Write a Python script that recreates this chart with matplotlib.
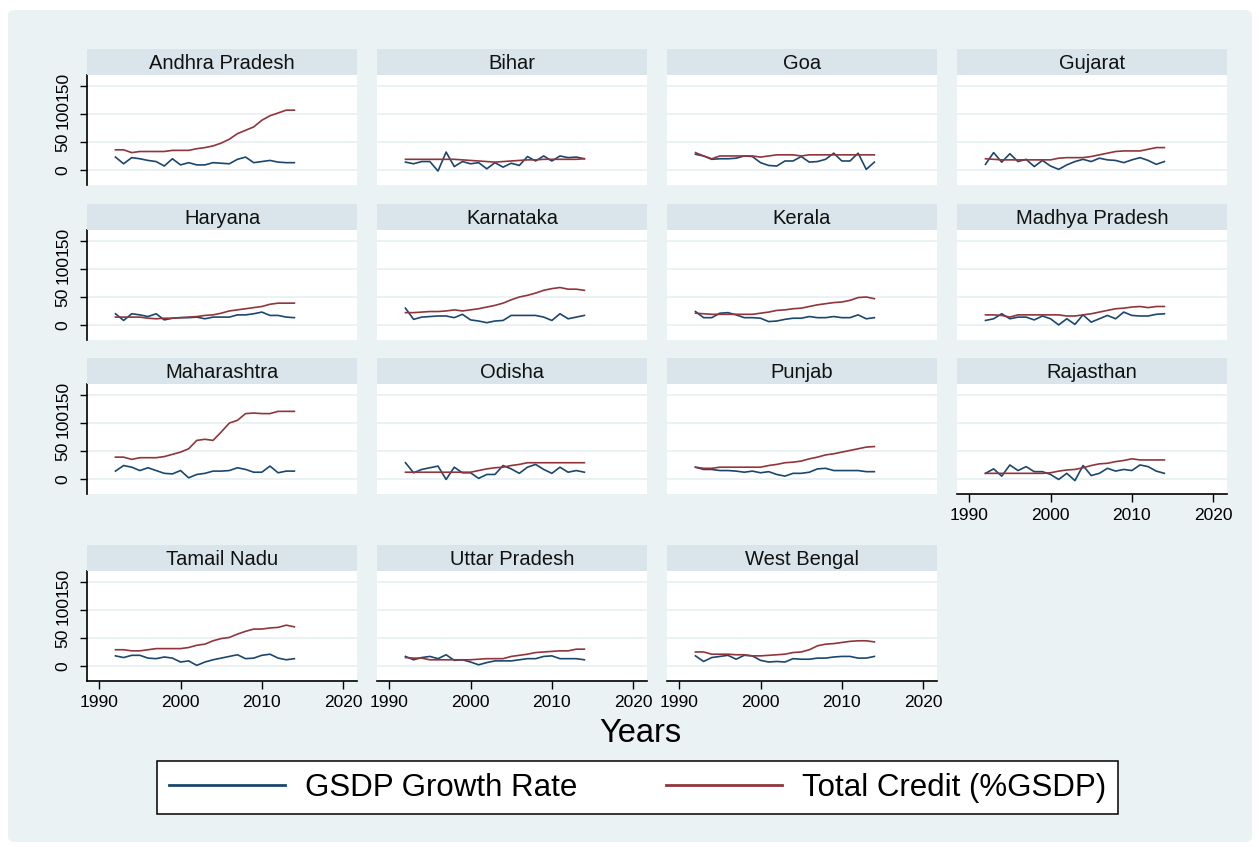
import matplotlib.pyplot as plt
from matplotlib.patches import FancyBboxPatch
from matplotlib.lines import Line2D

plt.rcParams['font.family'] = ['Liberation Sans', 'DejaVu Sans']

years = list(range(1992, 2015))

# GSDP growth rate and total credit (% of GSDP)
andhra_growth = [23, 11, 22, 20, 17, 15, 7, 20, 9, 13, 9, 9, 13, 12, 11, 19, 23, 13, 15, 17, 14, 13, 13]
andhra_credit = [36, 36, 31, 33, 33, 33, 33, 35, 35, 35, 38, 40, 43, 48, 55, 65, 71, 77, 89, 97, 102, 107, 107]
bihar_growth = [14, 11, 15, 15, -2, 32, 6, 15, 11, 13, 2, 13, 5, 12, 8, 24, 16, 25, 16, 25, 22, 23, 20]
bihar_credit = [19, 19, 19, 19, 19, 19, 19, 18, 17, 16, 15, 14, 15, 16, 17, 18, 18, 19, 19, 19, 19, 19, 20]
goa_growth = [28, 25, 19, 20, 20, 21, 25, 24, 13, 8, 7, 16, 16, 24, 14, 15, 19, 30, 16, 16, 30, 1, 14]
goa_credit = [31, 25, 20, 25, 25, 25, 25, 25, 23, 25, 27, 27, 27, 25, 27, 27, 27, 27, 27, 27, 27, 27, 27]
gujarat_growth = [10, 31, 14, 29, 15, 19, 6, 17, 7, 1, 9, 15, 19, 15, 21, 18, 17, 13, 18, 22, 17, 10, 15]
gujarat_credit = [20, 19, 18, 18, 18, 18, 18, 18, 18, 21, 22, 22, 22, 24, 27, 30, 33, 34, 34, 34, 37, 40, 40]
haryana_growth = [20, 8, 20, 18, 15, 20, 9, 12, 13, 13, 14, 11, 14, 14, 14, 18, 18, 20, 23, 17, 17, 14, 13]
haryana_credit = [14, 14, 14, 14, 12, 11, 12, 12, 13, 14, 15, 17, 18, 21, 25, 27, 29, 31, 33, 37, 39, 39, 39]
karnataka_growth = [30, 10, 14, 15, 16, 16, 13, 19, 9, 7, 4, 7, 8, 17, 17, 17, 17, 14, 8, 20, 11, 14, 17]
karnataka_credit = [22, 22, 23, 24, 24, 25, 27, 25, 27, 29, 32, 35, 39, 45, 50, 53, 57, 62, 65, 67, 64, 64, 62]
kerala_growth = [24, 13, 13, 21, 22, 18, 13, 13, 12, 6, 7, 10, 12, 12, 15, 13, 13, 15, 13, 13, 18, 11, 13]
kerala_credit = [21, 20, 19, 19, 19, 19, 19, 19, 21, 23, 26, 27, 29, 30, 33, 36, 38, 40, 41, 44, 49, 50, 47]
mp_growth = [8, 11, 20, 11, 14, 14, 9, 16, 11, 0, 11, 1, 18, 5, 11, 17, 11, 23, 17, 16, 16, 19, 20]
mp_credit = [18, 18, 17, 14, 18, 18, 18, 18, 18, 18, 16, 16, 18, 20, 23, 26, 29, 30, 32, 33, 31, 33, 33]
maha_growth = [14, 24, 21, 15, 20, 15, 10, 9, 15, 2, 8, 10, 14, 14, 15, 20, 17, 12, 12, 23, 11, 14, 14]
maha_credit = [39, 39, 35, 38, 38, 38, 40, 44, 48, 54, 69, 71, 69, 84, 100, 105, 117, 118, 117, 117, 121, 121, 121]
odisha_growth = [29, 11, 17, 20, 23, -1, 21, 11, 11, 1, 8, 8, 24, 18, 10, 21, 26, 17, 10, 21, 12, 15, 12]
odisha_credit = [12, 12, 12, 12, 12, 12, 12, 12, 12, 15, 18, 20, 21, 24, 26, 29, 29, 29, 29, 29, 29, 29, 29]
punjab_growth = [21, 17, 17, 15, 15, 14, 12, 14, 11, 13, 8, 5, 10, 10, 12, 18, 19, 15, 15, 15, 15, 13, 13]
punjab_credit = [21, 19, 19, 21, 21, 21, 21, 21, 21, 24, 26, 29, 30, 32, 36, 39, 43, 45, 48, 51, 54, 57, 58]
raj_growth = [10, 18, 5, 25, 15, 22, 13, 13, 8, -1, 10, -3, 24, 6, 10, 19, 14, 17, 15, 25, 22, 14, 10]
raj_credit = [10, 10, 10, 10, 10, 10, 10, 10, 11, 14, 16, 17, 20, 24, 27, 28, 31, 33, 36, 34, 34, 34, 34]
tn_growth = [18, 15, 19, 19, 14, 13, 16, 14, 7, 9, 1, 7, 11, 14, 17, 20, 13, 14, 19, 21, 14, 11, 13]
tn_credit = [29, 29, 27, 27, 29, 31, 31, 31, 31, 33, 37, 39, 45, 49, 51, 57, 62, 66, 66, 68, 69, 73, 70]
up_growth = [17, 11, 15, 17, 13, 20, 10, 11, 7, 2, 6, 9, 9, 9, 11, 13, 13, 17, 18, 13, 13, 13, 11]
up_credit = [15, 14, 14, 11, 11, 11, 11, 11, 11, 12, 13, 13, 13, 17, 19, 21, 24, 25, 26, 27, 27, 30, 30]
wb_growth = [18, 8, 15, 17, 19, 12, 19, 18, 10, 7, 8, 7, 13, 12, 12, 14, 14, 16, 17, 17, 14, 14, 17]
wb_credit = [25, 25, 21, 21, 21, 20, 20, 18, 18, 19, 20, 21, 24, 25, 29, 36, 39, 40, 42, 44, 45, 45, 43]

states = ['Andhra Pradesh', 'Bihar', 'Goa', 'Gujarat', 'Haryana', 'Karnataka', 'Kerala',
          'Madhya Pradesh', 'Maharashtra', 'Odisha', 'Punjab', 'Rajasthan',
          'Tamail Nadu', 'Uttar Pradesh', 'West Bengal']
growth = [andhra_growth, bihar_growth, goa_growth, gujarat_growth, haryana_growth,
          karnataka_growth, kerala_growth, mp_growth, maha_growth, odisha_growth,
          punjab_growth, raj_growth, tn_growth, up_growth, wb_growth]
credit = [andhra_credit, bihar_credit, goa_credit, gujarat_credit, haryana_credit,
          karnataka_credit, kerala_credit, mp_credit, maha_credit, odisha_credit,
          punjab_credit, raj_credit, tn_credit, up_credit, wb_credit]

blue = '#1a476f'
red = '#90353b'
bg_col = '#eaf2f3'
strip_col = '#d9e5ea'

W, H = 1259, 847
fig = plt.figure(figsize=(W / 100, H / 100), dpi=100, facecolor='white')
fig.patches.append(FancyBboxPatch((8 / W, 5 / H), 1244 / W, 832 / H,
                                  boxstyle='round,pad=0,rounding_size=0.006',
                                  transform=fig.transFigure, facecolor=bg_col,
                                  edgecolor='none', zorder=-10))

col_left = [87, 377, 667, 957]
strip_top = [49, 204, 358, 545]
pw, sh, ph = 270, 26, 110

for i, name in enumerate(states):
    row, col = divmod(i, 4)
    l = col_left[col]
    top = strip_top[row]
    ax = fig.add_axes([l / W, 1 - (top + sh + ph) / H, pw / W, ph / H])
    sax = fig.add_axes([l / W, 1 - (top + sh) / H, pw / W, sh / H])
    sax.set_facecolor(strip_col)
    sax.set_xticks([])
    sax.set_yticks([])
    for s in sax.spines.values():
        s.set_visible(False)
    sax.text(0.5, 0.45, name, ha='center', va='center', fontsize=14.5,
             color='#111111', transform=sax.transAxes)

    ax.plot(years, growth[i], color=blue, lw=1.2)
    ax.plot(years, credit[i], color=red, lw=1.2)
    ax.set_xlim(1988.5, 2021.7)
    ax.set_ylim(-27, 170)
    ax.set_yticks([0, 50, 100, 150])
    ax.set_xticks([1990, 2000, 2010, 2020])
    ax.grid(axis='y', color=bg_col, lw=1.4)
    ax.set_axisbelow(True)
    for s in ax.spines.values():
        s.set_visible(False)

    if col == 0:
        ax.spines['left'].set_visible(True)
        ax.spines['left'].set_linewidth(1.2)
        ax.tick_params(axis='y', length=5, width=1, labelsize=12.5, pad=7,
                       labelrotation=90)
        for lab in ax.get_yticklabels():
            lab.set_va('center')
    else:
        ax.tick_params(axis='y', left=False, labelleft=False)

    has_xaxis = row == 3 or name == 'Rajasthan'
    if has_xaxis:
        ax.spines['bottom'].set_visible(True)
        ax.spines['bottom'].set_linewidth(1.2)
        ax.tick_params(axis='x', length=6, width=1, labelsize=12.5, pad=4)
    else:
        ax.tick_params(axis='x', bottom=False, labelbottom=False)

fig.text(640 / W, 1 - 733 / H, 'Years', ha='center', va='center', fontsize=23.5)

handles = [Line2D([], [], color=blue, lw=2), Line2D([], [], color=red, lw=2)]
leg = fig.legend(handles, ['GSDP Growth Rate', 'Total Credit (%GSDP)'],
                 loc='center', bbox_to_anchor=(157 / W, 1 - 815 / H, 961 / W, 55 / H),
                 mode='expand', ncol=2, fontsize=22.5, handlelength=3.7,
                 handletextpad=0.65, borderpad=0.38, borderaxespad=0,
                 fancybox=False, edgecolor='black', framealpha=1)
leg.get_frame().set_linewidth(1.1)

fig.savefig('out.png', dpi=100, facecolor='white')
